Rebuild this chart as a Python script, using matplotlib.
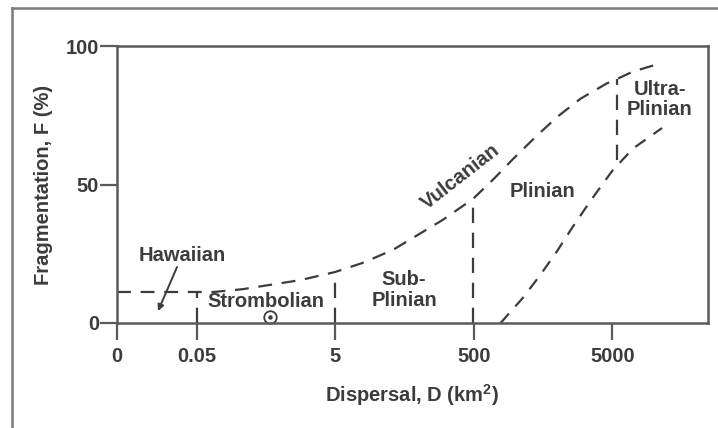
import matplotlib
matplotlib.use("Agg")
import matplotlib.pyplot as plt
from matplotlib.lines import Line2D

plt.rcParams["font.family"] = ["Liberation Sans", "DejaVu Sans"]
plt.rcParams["lines.scale_dashes"] = False

# Schematic dispersal axis: each tick sits at a fixed position along the axis
tick_labels = ["0", "0.05", "5", "500", "5000"]
tick_pos = [0.0, 0.58, 1.58, 2.59, 3.59]

# Upper envelope (fragmentation vs dispersal)
upper_x = [0.0, 0.70, 0.91, 1.33, 1.58, 1.78, 2.00, 2.36, 2.58, 2.73, 2.87,
           3.04, 3.19, 3.36, 3.55, 3.62, 3.74, 3.95]
upper_f = [11.2, 11.2, 12.2, 15.5, 18.4, 21.7, 26.4, 37.2, 44.8, 52.0, 59.2,
           67.5, 74.4, 81.0, 86.5, 88.0, 90.8, 93.9]

# Lower envelope
lower_x = [2.78, 2.94, 3.07, 3.19, 3.30, 3.43, 3.59, 3.74, 3.95]
lower_f = [0.0, 9.0, 17.5, 26.0, 34.5, 44.0, 55.0, 63.0, 70.4]

# Field boundaries: (position, bottom F, top F)
bound_x = [0.58, 1.58, 2.58, 3.62]
bound_lo = [0.0, 0.0, 0.0, 59.0]
bound_hi = [11.2, 18.4, 44.8, 88.0]

ink = "#3c3c3c"
spine = "#5a5a5a"
fs = 14.5

fig = plt.figure(figsize=(7.18, 4.28), dpi=100)
ax = fig.add_axes([117 / 718, 1 - 323 / 428, (708 - 117) / 718, (323 - 46) / 428])

ax.plot(upper_x, upper_f, color=ink, lw=1.6, linestyle=(0, (10, 7)))
ax.plot(lower_x, lower_f, color=ink, lw=1.6, linestyle=(0, (9, 7)))
for bx, lo, hi in zip(bound_x, bound_lo, bound_hi):
    ax.plot([bx, bx], [lo, hi], color=ink, lw=1.6, linestyle=(0, (11, 7)))

ax.set_xlim(0, 4.283)
ax.set_ylim(0, 100)
ax.set_xticks(tick_pos)
ax.set_xticklabels(tick_labels)
ax.set_yticks([0, 50, 100])
ax.set_yticklabels(["0", "50", "100"])

for s in ax.spines.values():
    s.set_color(spine)
    s.set_linewidth(1.8)
ax.tick_params(axis="both", direction="out", length=12, width=1.6, color=spine,
               labelsize=fs, labelcolor=ink)
ax.tick_params(axis="x", pad=5)
ax.tick_params(axis="y", pad=1)
for lab in ax.get_xticklabels() + ax.get_yticklabels():
    lab.set_fontweight("bold")

ax.set_xlabel("Dispersal, D (km$^\\mathregular{2}$)", fontsize=fs, fontweight="bold",
              color=ink, labelpad=12)
ax.set_ylabel("Fragmentation, F (%)", fontsize=fs, fontweight="bold",
              color=ink, labelpad=9)

txt = dict(fontsize=fs, fontweight="bold", color=ink, ha="center", va="center",
           linespacing=1.1)
ax.text(0.47, 24.5, "Hawaiian", **txt)
ax.text(1.08, 7.6, "Strombolian", **txt)
ax.text(2.08, 11.9, "Sub-\nPlinian", **txt)
ax.text(2.49, 52.8, "Vulcanian", rotation=38, rotation_mode="anchor", **txt)
ax.text(3.087, 47.3, "Plinian", **txt)
ax.text(3.935, 80.7, "Ultra-\nPlinian", **txt)

ax.annotate("", xy=(0.297, 4.3), xytext=(0.435, 20.2),
            arrowprops=dict(arrowstyle="-|>", color=ink, lw=1.4,
                            mutation_scale=9, shrinkA=0, shrinkB=0))

# Vent marker
ax.plot([1.109], [2.2], marker="o", ms=9, mfc="white", mec=ink, mew=1.3,
        clip_on=False)
ax.plot([1.109], [2.2], marker="o", ms=2.2, color=ink, clip_on=False)

# Outer frame
fig.add_artist(Line2D([12 / 718, 12 / 718], [0, 1 - 8 / 428], color="#7a7a7a", lw=1.8))
fig.add_artist(Line2D([12 / 718, 1], [1 - 8 / 428, 1 - 8 / 428], color="#7a7a7a", lw=1.8))

fig.savefig("out.png", dpi=100)
